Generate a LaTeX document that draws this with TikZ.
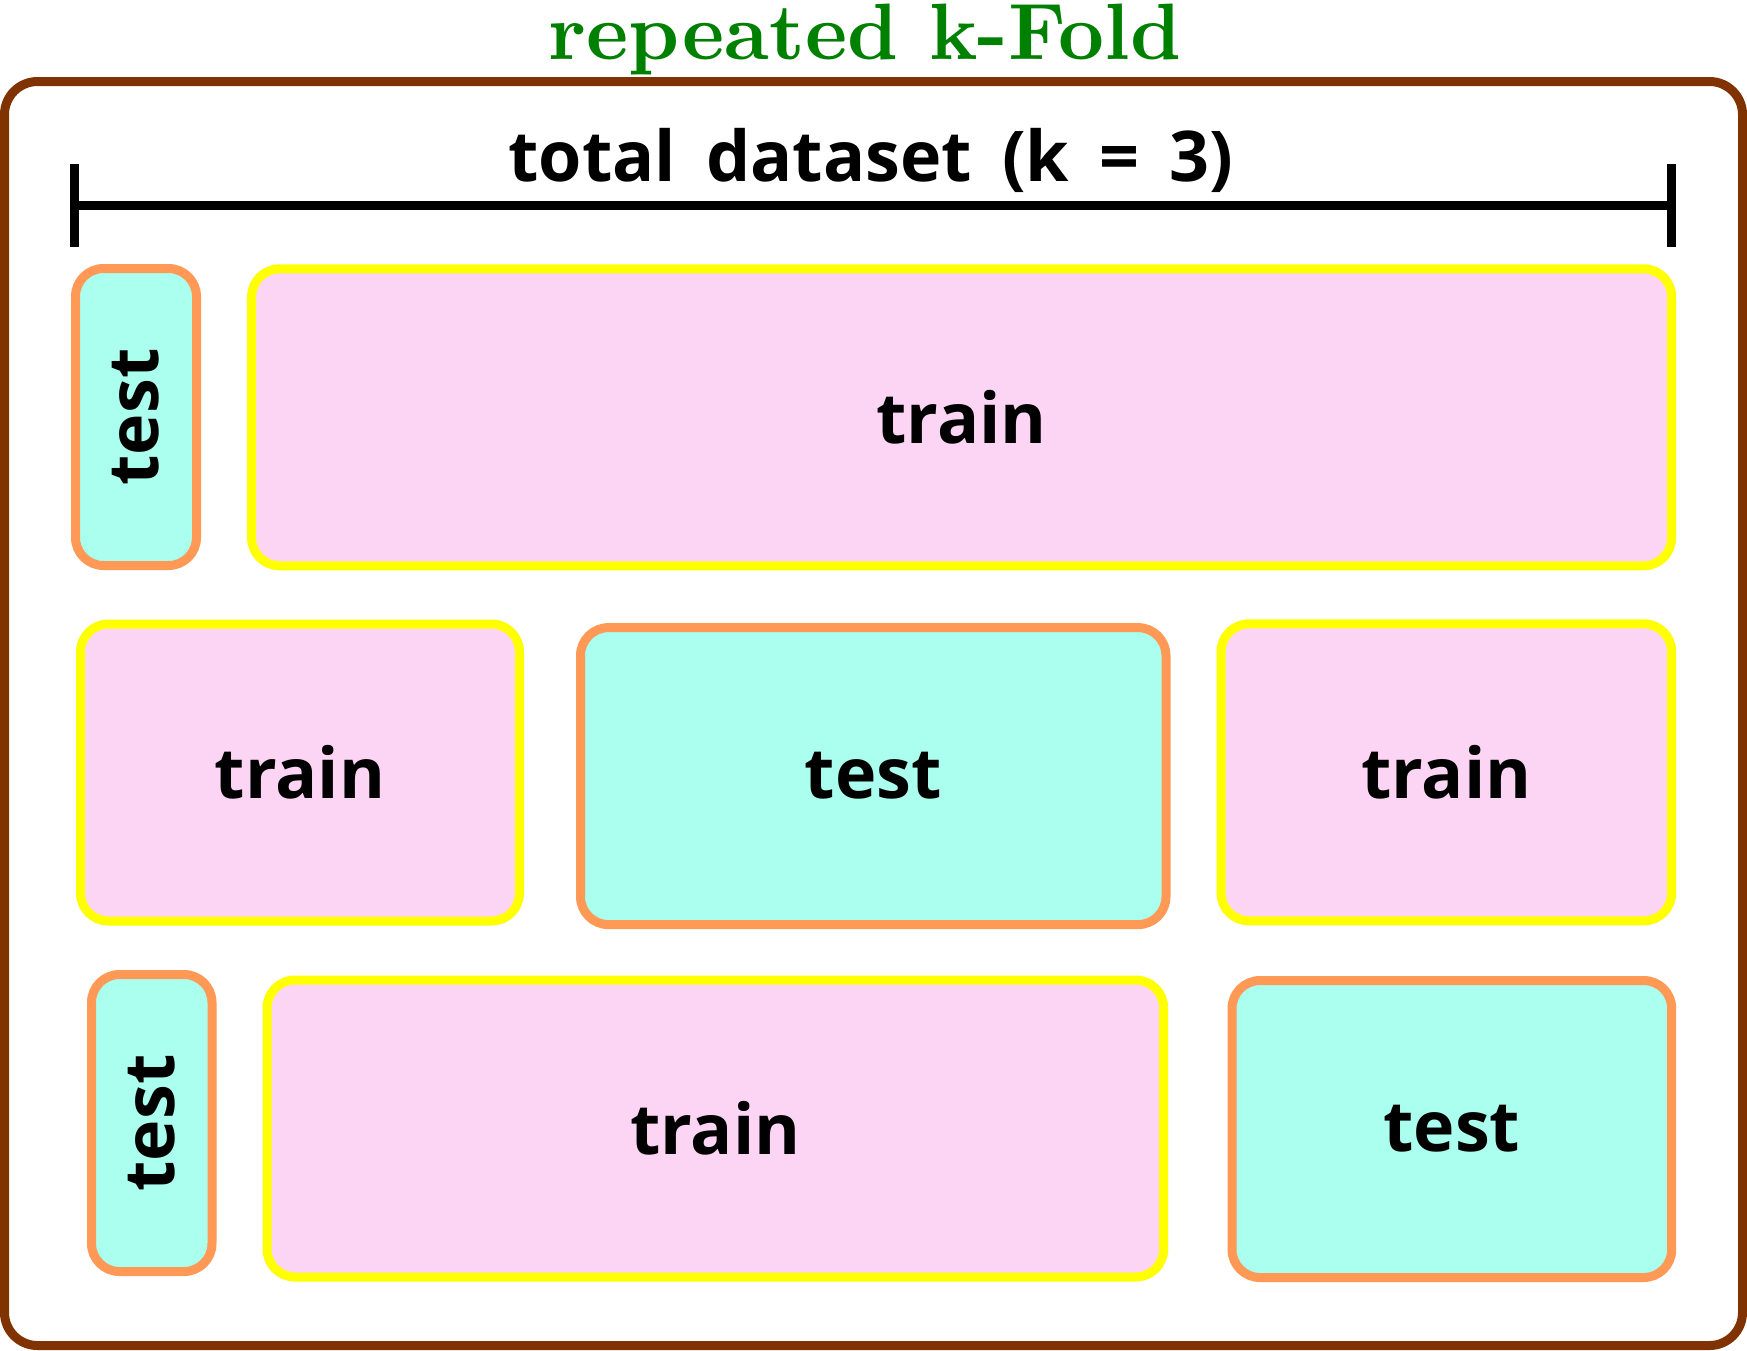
\documentclass[tikz,border=0pt]{standalone}
\usepackage{fontspec}
\newfontfamily\boxfont{Open Sans}[UprightFont=* Bold]
\newfontfamily\totalfont{Open Sans}[UprightFont=* Bold, WordSpace=1.65]
\newfontfamily\titlefont{lmroman10-bold.otf}
\definecolor{outerbrown}{HTML}{803300}
\definecolor{testline}{HTML}{FF9955}
\definecolor{testfill}{HTML}{AAFFEE}
\definecolor{trainline}{HTML}{FFFF00}
\definecolor{trainfill}{HTML}{FDD5F4}
\definecolor{titlegreen}{HTML}{008000}
\tikzset{
  foldbox/.style={rounded corners=28pt, line width=9pt, inner sep=0pt,
    font=\boxfont\fontsize{70}{80}\selectfont},
  trainbox/.style={foldbox, draw=trainline, fill=trainfill},
  testbox/.style={foldbox, draw=testline, fill=testfill},
  dimline/.style={line width=9.5pt, black},
}
\begin{document}
\begin{tikzpicture}[x=1pt,y=-1pt]
\useasboundingbox (0,0) rectangle (1747,1350);
% outer frame
\node[draw=outerbrown, line width=9pt, rounded corners=33pt, fill=white,
      minimum width=1738pt, minimum height=1264pt, inner sep=0pt] (frame) at (873.5,713.5) {};
% title
\node[text=titlegreen, font=\titlefont\fontsize{80}{90}\selectfont, inner sep=0pt,
      anchor=base] (title) at (865,59) {repeated k-Fold};
% dataset bar
\coordinate (barL) at (74.6,205.5);
\coordinate (barR) at (1671.7,205.5);
\coordinate (tickLt) at (74.6,164);
\coordinate (tickLb) at (74.6,247);
\coordinate (tickRt) at (1671.7,164);
\coordinate (tickRb) at (1671.7,247);
\draw[dimline] (barL) -- (barR);
\draw[dimline] (tickLt) -- (tickLb);
\draw[dimline] (tickRt) -- (tickRb);
\node[font=\totalfont\fontsize{70}{80}\selectfont, inner sep=0pt, anchor=base] (total) at (870.7,181) {total dataset (k = 3)};
% row 1
\node[testbox, minimum width=121pt, minimum height=297pt] (t1) at (136,417) {\rotatebox{90}{test}};
\node[trainbox, minimum width=1420pt, minimum height=297pt] (r1) at (961.6,417.3) {train};
% row 2
\node[trainbox, minimum width=439pt, minimum height=297pt] (r2a) at (300,772.5) {train};
\node[testbox, minimum width=585.5pt, minimum height=297pt] (t2) at (873.25,776.1) {test};
\node[trainbox, minimum width=450.7pt, minimum height=297pt] (r2b) at (1446.35,772.35) {train};
% row 3
\node[testbox, minimum width=120.5pt, minimum height=297pt] (t3a) at (151.75,1123) {\rotatebox{90}{test}};
\node[trainbox, minimum width=896.7pt, minimum height=297pt] (r3) at (715.35,1128.5) {train};
\node[testbox, minimum width=439.7pt, minimum height=297pt] (t3b) at (1451.85,1129) {test};
\end{tikzpicture}
\end{document}
